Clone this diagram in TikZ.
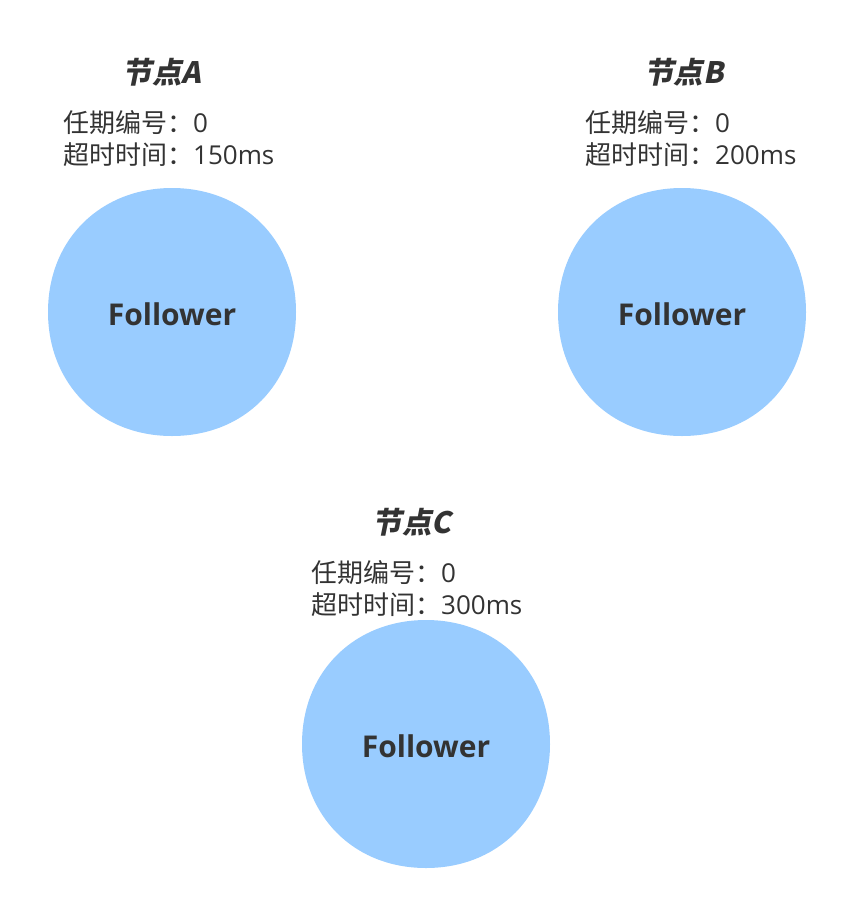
\documentclass[tikz,border=0pt]{standalone}
\usepackage{fontspec}
\setmainfont{Open Sans}
\newfontfamily\cjk{Noto Sans CJK SC}
\newfontfamily\cjkslant[FakeSlant=0.2]{Noto Sans CJK SC}
\usepackage{tikz}
\usetikzlibrary{positioning}
\definecolor{followerblue}{HTML}{99CCFF}
\definecolor{textgray}{HTML}{333333}

\tikzset{
    title/.style={font=\cjkslant\bfseries\fontsize{29.5}{32}\selectfont, text=textgray, inner sep=0pt},
    info/.style={font=\fontsize{26}{31.5}\selectfont, text=textgray, align=left, anchor=north west, inner sep=0pt},
    follower/.style={font=\bfseries\fontsize{30}{32}\selectfont, text=textgray, inner sep=0pt}
}

\begin{document}
\begin{tikzpicture}[x=1pt, y=-1pt]
    \useasboundingbox (0,0) rectangle (862,916);
    % blobs
    \foreach \cx/\cy in {172/312, 682/312, 426/744} {
        \fill[followerblue, shift={(\cx,\cy)}]
            (124,0) .. controls (124,71) and (73,124) .. (0,124)
            .. controls (-73,124) and (-124,71) .. (-124,0)
            .. controls (-124,-74) and (-70,-124) .. (0,-124)
            .. controls (70,-124) and (124,-74) .. (124,0) -- cycle;
    }
    \node[follower] (fa) at (172,314) {Follower};
    \node[follower] (fb) at (682,314) {Follower};
    \node[follower] (fc) at (426,746) {Follower};

    \node[title] (ta) at (162,72) {节点A};
    \node[title] (tb) at (684,72) {节点B};
    \node[title] (tc) at (412,522) {节点C};

    \node[info] (ia) at (63,110.5) {{\cjk 任期编号：}0\\{\cjk 超时时间：}150ms};
    \node[info] (ib) at (585,110.5) {{\cjk 任期编号：}0\\{\cjk 超时时间：}200ms};
    \node[info] (ic) at (311,560.5) {{\cjk 任期编号：}0\\{\cjk 超时时间：}300ms};
\end{tikzpicture}
\end{document}
